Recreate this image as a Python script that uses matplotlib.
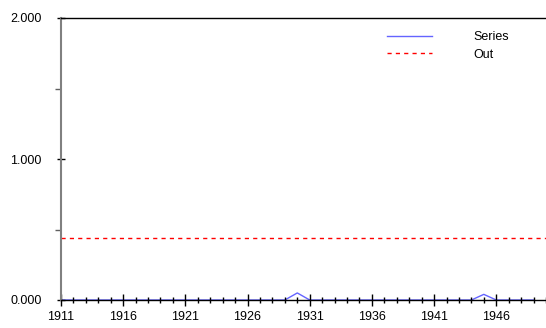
import matplotlib
matplotlib.use("Agg")
import matplotlib.pyplot as plt
from matplotlib.ticker import FixedLocator, MultipleLocator, FormatStrFormatter

years = list(range(1911, 1950))
series = [0.0] * len(years)
series[years.index(1930)] = 0.05
series[years.index(1945)] = 0.04
out_level = 0.44
out = [out_level] * len(years)
major_years = [1911, 1916, 1921, 1926, 1931, 1936, 1941, 1946]

plt.rcParams['font.family'] = ['Liberation Sans', 'DejaVu Sans']
plt.rcParams['font.size'] = 9

fig = plt.figure(figsize=(5.46, 3.28), dpi=100)
ax = fig.add_axes([61/546, 1 - 300/328, 1 - 61/546, 282/328])

ax.plot(years, series, color='#6464ff', lw=1.0, label='Series', zorder=1, clip_on=False)
ax.axhline(out_level, color='#ff0000', lw=1.0, ls=(0, (3, 3)), label='Out', zorder=1)

ax.set_xlim(1911, 1950)
ax.set_ylim(0, 2)
ax.xaxis.set_major_locator(FixedLocator(major_years))
ax.xaxis.set_minor_locator(MultipleLocator(1))
ax.yaxis.set_major_locator(MultipleLocator(1))
ax.yaxis.set_minor_locator(MultipleLocator(0.5))
ax.yaxis.set_major_formatter(FormatStrFormatter('%.3f'))

ax.spines['right'].set_visible(False)
ax.spines['top'].set_color('black')
ax.spines['top'].set_linewidth(1.0)
ax.spines['bottom'].set_color('black')
ax.spines['bottom'].set_linewidth(1.0)
ax.spines['bottom'].set_zorder(3)
ax.spines['left'].set_color('#808080')
ax.spines['left'].set_linewidth(1.5)

ax.tick_params(axis='x', which='major', direction='inout', length=8, width=1, color='black', pad=4)
ax.tick_params(axis='x', which='minor', direction='inout', length=4, width=1, color='black')
ax.tick_params(axis='y', which='major', direction='inout', length=6, width=1, color='black', pad=11)
ax.tick_params(axis='y', which='minor', direction='out', length=4, width=1, color='#606060')

ax.legend(loc='upper left', bbox_to_anchor=(387/546, 1 - 31/328), bbox_transform=fig.transFigure,
          frameon=False, borderpad=0, borderaxespad=0, handlelength=3.6, handletextpad=3.3,
          labelspacing=0.45)

fig.savefig('out.png', dpi=100)
